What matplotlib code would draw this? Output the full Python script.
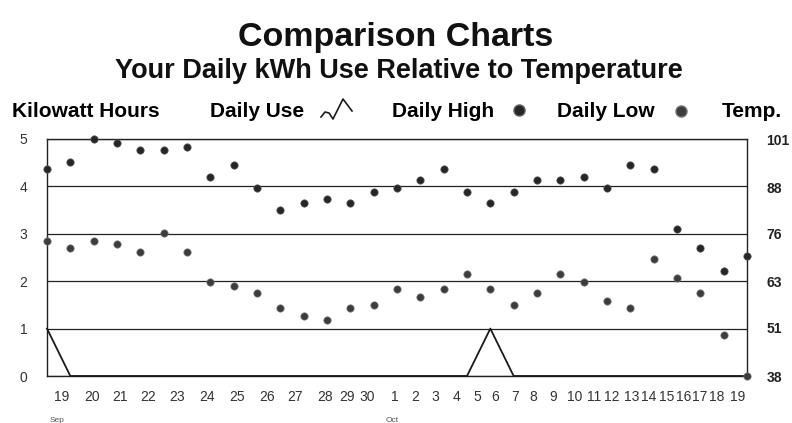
import matplotlib
matplotlib.use("Agg")
import matplotlib.pyplot as plt
from matplotlib.lines import Line2D

# ----------------------------------------------------------------------
# Datos: 31 dias, 19 sep -> 19 oct
# ----------------------------------------------------------------------
dias = list(range(31))

# kWh de uso diario
uso_diario = [1.0, 0, 0, 0, 0, 0, 0, 0, 0, 0, 0, 0, 0, 0, 0, 0,
              0, 0, 0, 1.0, 0, 0, 0, 0, 0, 0, 0, 0, 0, 0, 0]

# temperaturas (F)
temp_max = [93, 95, 101, 100, 98, 98, 99, 91, 94, 88, 82, 84, 85, 84, 87, 88,
            90, 93, 87, 84, 87, 90, 90, 91, 88, 94, 93, 77, 72, 66, 70]
temp_min = [74, 72, 74, 73, 71, 76, 71, 63, 62, 60, 56, 54, 53, 56, 57, 61,
            59, 61, 65, 61, 57, 60, 65, 63, 58, 56, 69, 64, 60, 49, 38]

etiquetas_x = ["19", "20", "21", "22", "23", "24", "25", "26", "27", "28", "29", "30",
               "1", "2", "3", "4", "5", "6", "7", "8", "9", "10", "11", "12",
               "13", "14", "15", "16", "17", "18", "19"]
ticks_kwh = [0, 1, 2, 3, 4, 5]
ticks_temp = [38, 51, 63, 76, 88, 101]

# posicion de las etiquetas del eje x (en unidades de dia, como en el original)
pos_etiquetas = [0.64, 1.93, 3.13, 4.33, 5.57, 6.86, 8.14, 9.43, 10.63, 11.92, 12.86, 13.72,
                 14.92, 15.77, 16.63, 17.57, 18.43, 19.2, 20.06, 20.83, 21.69, 22.63, 23.45,
                 24.22, 25.07, 25.8, 26.57, 27.3, 27.99, 28.72, 29.58]

plt.rcParams["font.family"] = ["Liberation Sans", "DejaVu Sans"]

W, H = 792, 423
fig = plt.figure(figsize=(W / 100, H / 100), dpi=100)
fig.patch.set_facecolor("white")


def fx(px):
    return px / W


def fy(py):
    return 1 - py / H


ax = fig.add_axes([fx(47), fy(376), fx(747) - fx(47), fy(139) - fy(376)])
ax.set_xlim(0, 30)
ax.set_ylim(0, 5)

# lineas horizontales
ax.set_yticks(ticks_kwh)
ax.yaxis.grid(True, color="#222222", linewidth=0.9)
ax.set_axisbelow(True)
for s in ax.spines.values():
    s.set_color("#222222")
    s.set_linewidth(1.0)

ax.tick_params(axis="y", length=0, pad=14, labelsize=10, labelcolor="#333333")

ax.set_xticks(pos_etiquetas)
ax.set_xticklabels(etiquetas_x)
ax.tick_params(axis="x", length=0, pad=10, labelsize=10, labelcolor="#333333")

# uso diario (linea)
ax.plot(dias, uso_diario, color="#1a1a1a", linewidth=1.3, clip_on=False, zorder=3)

# temperaturas en eje derecho
ax2 = ax.twinx()
ax2.set_ylim(38, 101)
ax2.set_yticks(ticks_temp)
ax2.tick_params(axis="y", length=0, pad=14, labelsize=10, labelcolor="#222222")
for lbl in ax2.get_yticklabels():
    lbl.set_fontweight("bold")
for s in ax2.spines.values():
    s.set_visible(False)

ax2.scatter(dias, temp_max, s=28, color="#262626", edgecolor="#555555",
            linewidth=0.5, clip_on=False, zorder=4)
ax2.scatter(dias, temp_min, s=28, color="#3c3c3c", edgecolor="#777777",
            linewidth=0.5, clip_on=False, zorder=4)

# meses
fig.text(fx(57), fy(420), "Sep", fontsize=6, color="#555555", ha="center", va="center")
fig.text(fx(392), fy(420), "Oct", fontsize=6, color="#555555", ha="center", va="center")

# titulos
fig.text(0.5, fy(46), "Comparison Charts", fontsize=24.5, fontweight="bold",
         ha="center", va="baseline", color="#111111")
fig.text(fx(399), fy(78), "Your Daily kWh Use Relative to Temperature", fontsize=19.5,
         fontweight="bold", ha="center", va="baseline", color="#111111")

# fila de leyenda
base = fy(117)
fig.text(fx(12), base, "Kilowatt Hours", fontsize=15, fontweight="bold", va="baseline")
fig.text(fx(210), base, "Daily Use", fontsize=15, fontweight="bold", va="baseline")
fig.text(fx(392), base, "Daily High", fontsize=15, fontweight="bold", va="baseline")
fig.text(fx(557), base, "Daily Low", fontsize=15, fontweight="bold", va="baseline")
fig.text(fx(722), base, "Temp.", fontsize=15, fontweight="bold", va="baseline")

glifo_x = [321, 325, 329, 333, 343, 352]
glifo_y = [117, 112, 113, 119, 99, 111]
fig.add_artist(Line2D([fx(v) for v in glifo_x], [fy(v) for v in glifo_y],
                      color="#1a1a1a", linewidth=1.2))
fig.add_artist(Line2D([fx(519)], [fy(110)], marker="o", markersize=8,
                      color="#262626", markeredgecolor="#666666"))
fig.add_artist(Line2D([fx(681)], [fy(111)], marker="o", markersize=8,
                      color="#3c3c3c", markeredgecolor="#777777"))

fig.savefig("out.png", dpi=100, facecolor="white")
